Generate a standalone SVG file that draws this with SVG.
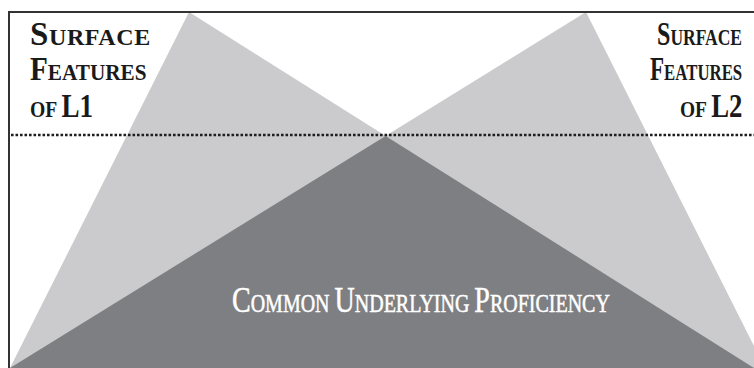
<svg xmlns="http://www.w3.org/2000/svg" width="754" height="368" viewBox="0 0 754 368">
  <defs>
    <clipPath id="frame">
      <rect x="10" y="13" width="744" height="355"/>
    </clipPath>
    <style>
      .light { fill: #cbcbcd; }
      .dark { fill: #7e7f83; }
      .border { stroke: #333; stroke-width: 2; fill: none; }
      .dots { stroke: #1e1e1e; stroke-width: 2.6; stroke-dasharray: 2.6 1.9; fill: none; }
      .lbl { font-family: "Liberation Serif", "Times New Roman", serif; font-weight: bold; fill: #1a1a1a; }
      .big { font-size: 33px; }
      .sm { font-size: 24px; }
      .base { font-family: "Liberation Serif", "Times New Roman", serif; fill: #ffffff; stroke: #ffffff; stroke-width: 0.5; }
      .bbig { font-size: 35px; }
      .bsm { font-size: 25px; }
    </style>
  </defs>
  <rect width="754" height="368" fill="#ffffff"/>

  <!-- overlapping language wedges -->
  <g id="wedges" clip-path="url(#frame)">
    <polygon id="wedge-l1" class="light" points="189,12 10,368 754,368"/>
    <polygon id="wedge-l2" class="light" points="586,12 765,368 10,368"/>
    <polygon id="cup" class="dark" points="385.6,135.9 10,368 754,368"/>
  </g>

  <!-- frame lines -->
  <g id="frame-lines">
    <line class="border" x1="8" y1="12" x2="754" y2="12"/>
    <line class="border" x1="9" y1="11" x2="9" y2="368"/>
    <line class="dots" x1="11" y1="135" x2="754" y2="135"/>
  </g>

  <!-- surface features of L1 -->
  <g id="label-l1" class="lbl">
    <text x="30" y="45" letter-spacing="0.6"><tspan class="big">S</tspan><tspan class="sm">URFACE</tspan></text>
    <text transform="translate(30,80) scale(0.885,1)"><tspan class="big">F</tspan><tspan class="sm">EATURES</tspan></text>
    <text transform="translate(30,117) scale(0.82,1)"><tspan class="sm">OF </tspan><tspan class="big">L1</tspan></text>
  </g>

  <!-- surface features of L2 -->
  <g id="label-l2" class="lbl">
    <text transform="translate(657,45) scale(0.73,1)"><tspan class="big">S</tspan><tspan class="sm">URFACE</tspan></text>
    <text transform="translate(650,80) scale(0.70,1)"><tspan class="big">F</tspan><tspan class="sm">EATURES</tspan></text>
    <text transform="translate(680,117) scale(0.81,1)"><tspan class="sm">OF </tspan><tspan class="big">L2</tspan></text>
  </g>

  <!-- common underlying proficiency -->
  <g id="label-cup" class="base">
    <text transform="translate(232,312) scale(0.8,1)"><tspan class="bbig">C</tspan><tspan class="bsm">OMMON </tspan><tspan class="bbig">U</tspan><tspan class="bsm">NDERLYING </tspan><tspan class="bbig">P</tspan><tspan class="bsm">ROFICIENCY</tspan></text>
  </g>
</svg>
